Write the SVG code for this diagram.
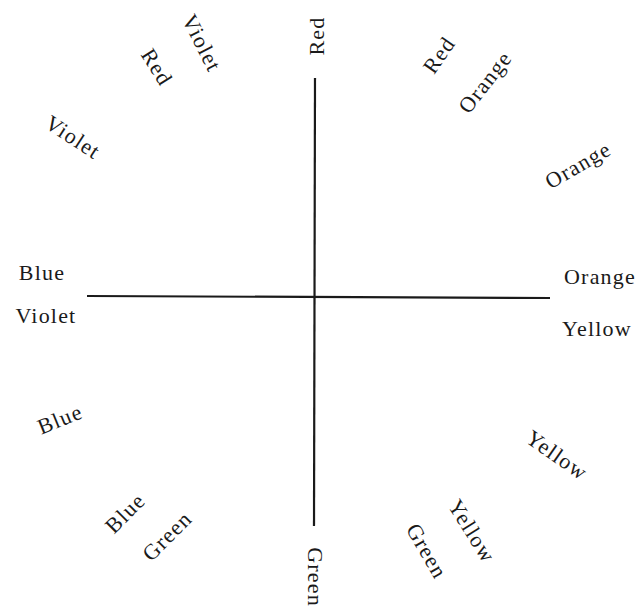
<svg xmlns="http://www.w3.org/2000/svg" width="643" height="611" viewBox="0 0 643 611">
<style>
text{font-family:"Liberation Serif","Times New Roman",serif;font-size:22px;letter-spacing:1.2px;fill:#1a1a1a;text-anchor:middle;dominant-baseline:central}
.ax{stroke:#1a1a1a;stroke-width:2.2;fill:none}
</style>
<rect width="643" height="611" fill="#fff"/>
<g id="connectors">
<line class="ax" x1="315" y1="78" x2="314" y2="526"/>
<line class="ax" x1="87" y1="296" x2="550" y2="298"/>
</g>
<g id="n-red-top"><text transform="translate(316,36) rotate(-90)">Red</text></g>
<g id="n-green-bottom"><text transform="translate(315,577) rotate(90)">Green</text></g>
<g id="n-blue-left"><text x="42" y="272">Blue</text></g>
<g id="n-violet-left"><text x="46" y="315">Violet</text></g>
<g id="n-orange-right"><text x="600" y="276">Orange</text></g>
<g id="n-yellow-right"><text x="597" y="328">Yellow</text></g>
<g id="n-violet-tl1"><text transform="translate(202,43) rotate(63)">Violet</text></g>
<g id="n-red-tl"><text transform="translate(157,67) rotate(58)">Red</text></g>
<g id="n-violet-tl2"><text transform="translate(73,137) rotate(33)">Violet</text></g>
<g id="n-red-tr"><text transform="translate(439,55) rotate(-55)">Red</text></g>
<g id="n-orange-tr1"><text transform="translate(485,82) rotate(-52)">Orange</text></g>
<g id="n-orange-tr2"><text transform="translate(578,165) rotate(-30)">Orange</text></g>
<g id="n-blue-bl1"><text transform="translate(60,419) rotate(-22)">Blue</text></g>
<g id="n-blue-bl2"><text transform="translate(125,513) rotate(-45)">Blue</text></g>
<g id="n-green-bl"><text transform="translate(167,536) rotate(-45)">Green</text></g>
<g id="n-yellow-br1"><text transform="translate(557,455) rotate(35)">Yellow</text></g>
<g id="n-yellow-br2"><text transform="translate(472,531) rotate(58)">Yellow</text></g>
<g id="n-green-br"><text transform="translate(427,551) rotate(60)">Green</text></g>
</svg>
